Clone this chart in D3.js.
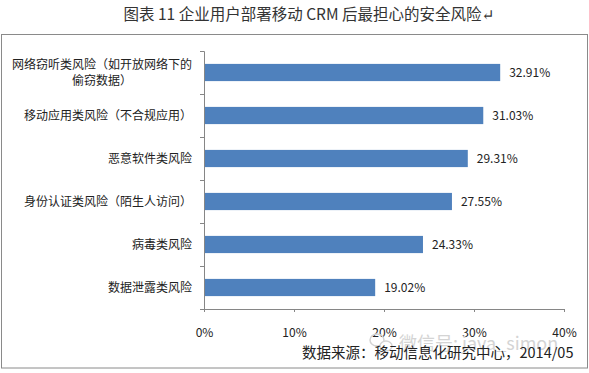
<!DOCTYPE html>
<html>
<head>
<meta charset="utf-8">
<script src="https://cdn.jsdelivr.net/npm/d3@7"></script>
<style>
    html, body { margin: 0; padding: 0; background: #fff; }
    svg { display: block; }
    text { font-family: "Noto Sans CJK SC", "Noto Sans", sans-serif; fill: #222; }
    .title { font-family: "Noto Sans CJK SC", "DejaVu Serif", serif; fill: #333; }
</style>
</head>
<body>
<div id="chart"></div>
<script>
    // Chart data
    var categories = [
        "网络窃听类风险（如开放网络下的|偷窃数据）",
        "移动应用类风险（不合规应用）",
        "恶意软件类风险",
        "身份认证类风险（陌生人访问）",
        "病毒类风险",
        "数据泄露类风险"
    ];
    var values = [32.91, 31.03, 29.31, 27.55, 24.33, 19.02];
    var xTicks = [0, 10, 20, 30, 40];

    var width = 589, height = 373;
    var margin = {top: 51, right: 25, bottom: 64, left: 204};
    var w = width - margin.left - margin.right;
    var h = height - margin.top - margin.bottom;

    var svg = d3.select("#chart")
        .append("svg")
        .attr("width", width)
        .attr("height", height);

    // Outer frame
    svg.append("rect")
        .attr("x", 1.5)
        .attr("y", 34.5)
        .attr("width", 586)
        .attr("height", 333.5)
        .attr("fill", "none")
        .attr("stroke", "#8a8a8a")
        .attr("stroke-width", 1);

    // Title, the return mark is part of the original text
    svg.append("text")
        .attr("class", "title")
        .attr("x", 309)
        .attr("y", 20)
        .attr("text-anchor", "middle")
        .attr("font-size", 15.5)
        .text("图表 11 企业用户部署移动 CRM 后最担心的安全风险↵");

    var g = svg.append("g")
        .attr("transform", "translate(" + margin.left + "," + margin.top + ")");

    var xScale = d3.scaleLinear().domain([0, 40]).range([0, w]);
    var yScale = d3.scaleBand()
        .domain(d3.range(categories.length))
        .range([0, h])
        .paddingInner(0.6)
        .paddingOuter(0.3);

    // Bars
    g.selectAll("rect.bar")
        .data(values)
        .enter()
        .append("rect")
        .attr("class", "bar")
        .attr("x", 0)
        .attr("y", function(d, i) { return yScale(i); })
        .attr("width", function(d) { return xScale(d); })
        .attr("height", yScale.bandwidth())
        .attr("fill", "#4f81bd");

    // Value labels
    g.selectAll("text.value")
        .data(values)
        .enter()
        .append("text")
        .attr("class", "value")
        .attr("x", function(d) { return xScale(d) + 9; })
        .attr("y", function(d, i) { return yScale(i) + yScale.bandwidth() / 2 + 4; })
        .attr("font-size", 12)
        .text(function(d) { return d.toFixed(2) + "%"; });

    // X axis
    var xAxis = d3.axisBottom(xScale)
        .tickValues(xTicks)
        .tickSize(3)
        .tickPadding(16)
        .tickFormat(function(d) { return d + "%"; });
    var xg = g.append("g")
        .attr("transform", "translate(0," + h + ")")
        .call(xAxis);
    xg.selectAll("path, line").attr("stroke", "#868686");
    xg.selectAll("text").attr("font-size", 12).attr("fill", "#222");

    // Y axis, ticks sit between the categories
    var yAxis = d3.axisLeft(d3.scaleLinear().domain([0, categories.length]).range([0, h]))
        .ticks(categories.length)
        .tickSize(4)
        .tickFormat("");
    var yg = g.append("g").call(yAxis);
    yg.selectAll("path, line").attr("stroke", "#868686");

    // Category labels, centred on each other and right aligned to the axis
    categories.forEach(function(label, i) {
        var lines = label.split("|");
        var cy = yScale(i) + yScale.bandwidth() / 2;
        var blockWidth = lines[0].length * 12;
        lines.forEach(function(line, j) {
            g.append("text")
                .attr("x", lines.length > 1 ? -12 - blockWidth / 2 : -12)
                .attr("y", cy + 4 + (j - (lines.length - 1) / 2) * 16)
                .attr("text-anchor", lines.length > 1 ? "middle" : "end")
                .attr("font-size", 12)
                .text(line);
        });
    });

    // Watermark icon and text, sits under the source line
    svg.append("ellipse")
        .attr("cx", 377).attr("cy", 340).attr("rx", 7).attr("ry", 6)
        .attr("fill", "none").attr("stroke", "#d4d4d4").attr("stroke-width", 1.5);
    svg.append("ellipse")
        .attr("cx", 386).attr("cy", 346).attr("rx", 6).attr("ry", 5)
        .attr("fill", "#fff").attr("stroke", "#d4d4d4").attr("stroke-width", 1.5);
    svg.append("text")
        .attr("x", 399)
        .attr("y", 350)
        .attr("font-size", 18)
        .style("fill", "#d4d4d4")
        .text("微信号: java_simon");

    // Source line
    svg.append("text")
        .attr("x", 302)
        .attr("y", 358)
        .attr("font-size", 14.5)
        .text("数据来源：移动信息化研究中心，2014/05");
</script>
</body>
</html>
